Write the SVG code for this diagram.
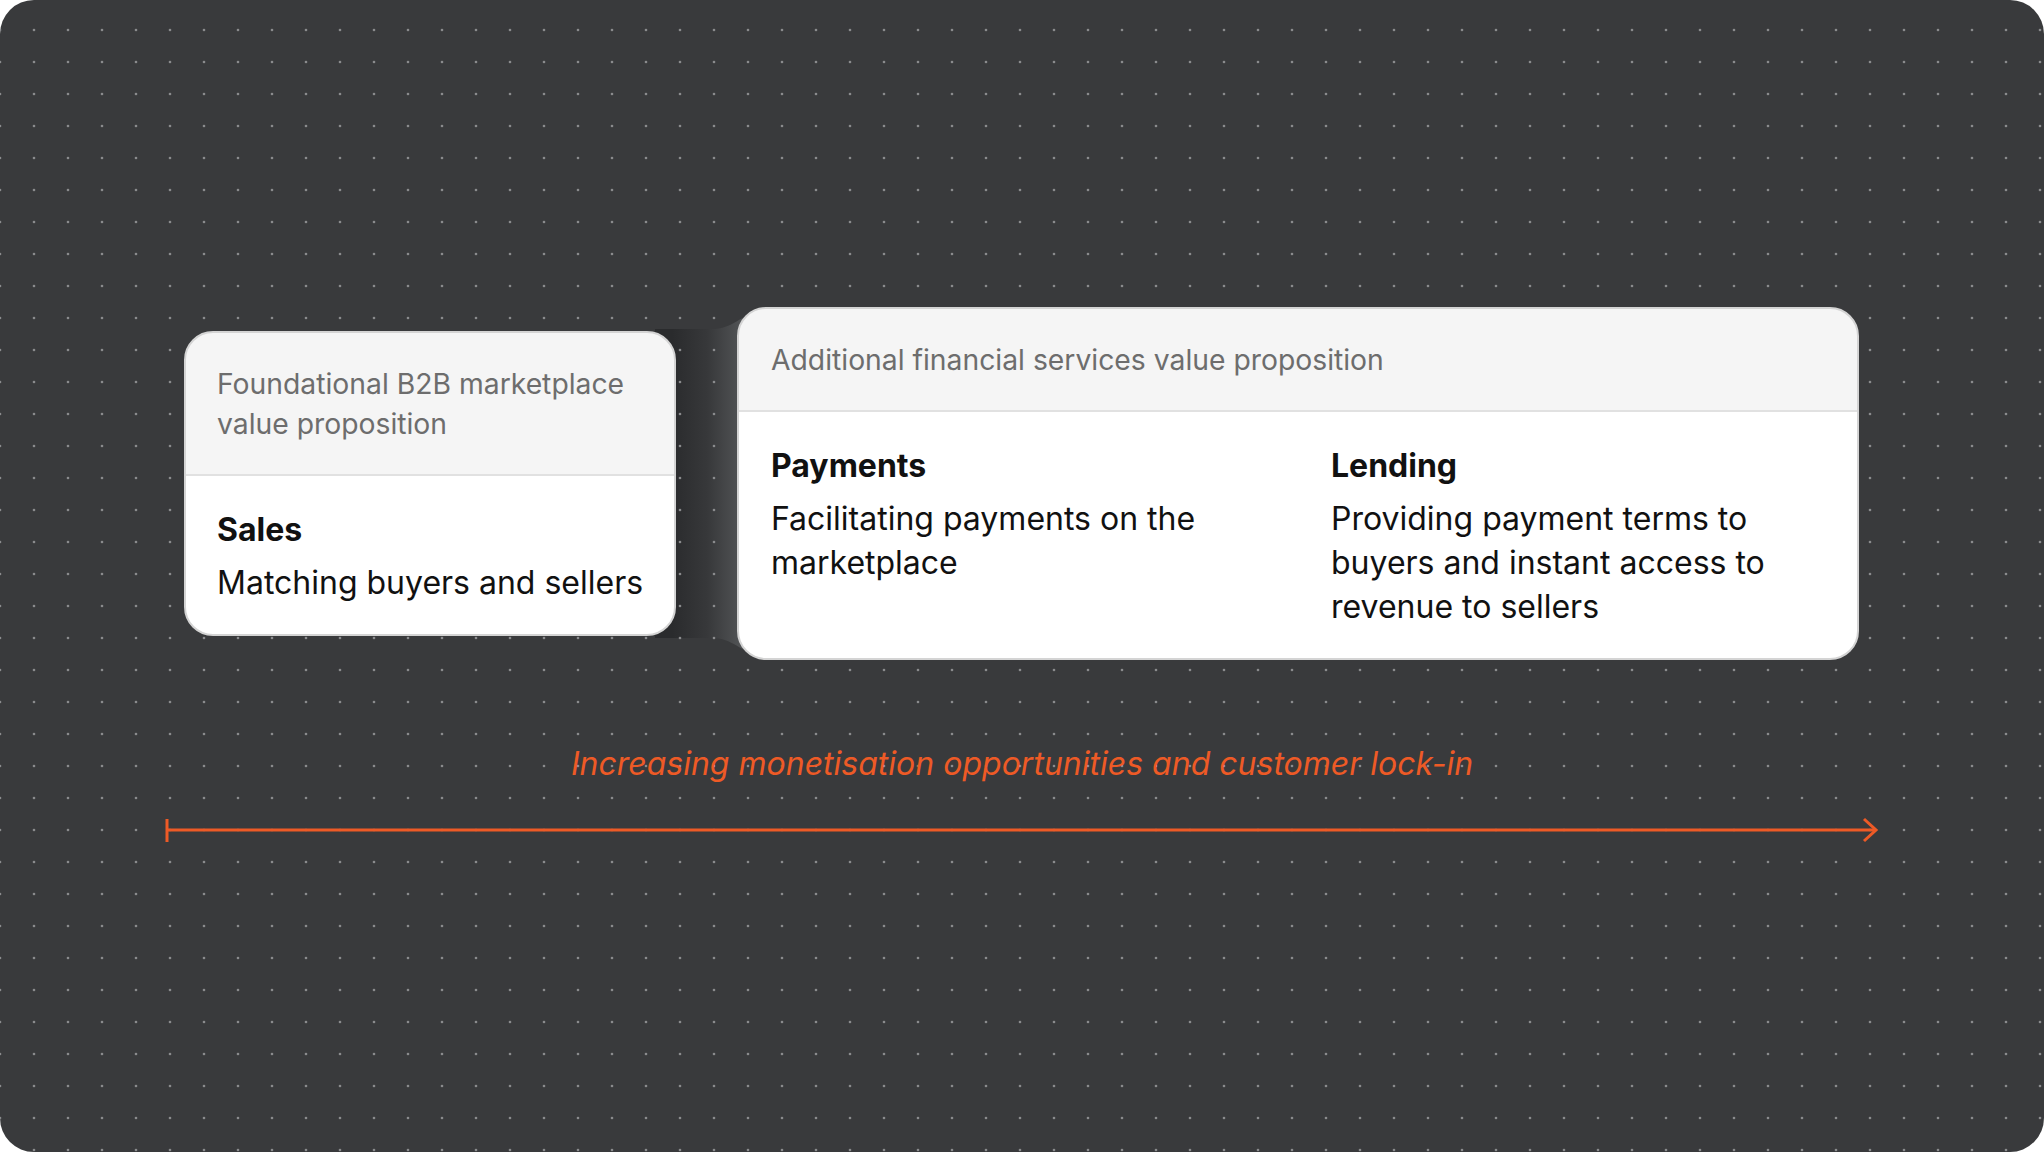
<svg xmlns="http://www.w3.org/2000/svg" width="2044" height="1152" viewBox="0 0 2044 1152">
<defs>
<style>
.hdr{font-family:Inter,"Noto Sans",sans-serif;font-size:28.3px;fill:#6d6d6d}
.ttl{font-family:Inter,"Noto Sans",sans-serif;font-size:32px;font-weight:700;fill:#111111}
.body{font-family:Inter,"Noto Sans",sans-serif;font-size:32px;fill:#111111}
.card{fill:#ffffff}
.edge{fill:none;stroke:#d4d4d4;stroke-width:2}
.head{fill:#f5f5f5}
.div{stroke:#e1e1e1;stroke-width:2}
.axis{stroke:#ee5a26;stroke-width:3;fill:none}
.lbl{font-family:Inter,"Noto Sans",sans-serif;font-size:32px;font-style:italic;fill:#ee5a26}
</style>
<pattern id="dots" x="17" y="14" width="34" height="32" patternUnits="userSpaceOnUse">
<circle cx="17" cy="16" r="1.3" fill="#8a8b8d"/>
</pattern>
<linearGradient id="bridge" gradientUnits="userSpaceOnUse" x1="672" y1="0" x2="742" y2="0">
<stop offset="0" stop-color="#2a2b2d"/>
<stop offset="0.5" stop-color="#37383a"/>
<stop offset="1" stop-color="#525456"/>
</linearGradient>
<clipPath id="c1"><rect x="185" y="332" width="490" height="303" rx="28"/></clipPath>
<clipPath id="c2"><rect x="738" y="308" width="1120" height="351" rx="28"/></clipPath>
</defs>
<rect x="0" y="0" width="2044" height="1152" fill="#ffffff"/>
<rect x="0" y="0" width="2044" height="1152" rx="34" fill="#393a3c"/>
<path d="M655 329 L712 329 C734 329 740 314 768 308 L768 659 C740 653 734 638 712 638 L655 638 Z" fill="url(#bridge)"/>
<rect x="0" y="0" width="2044" height="1152" rx="34" fill="url(#dots)"/>
<g id="node-foundational">
<rect class="card" x="185" y="332" width="490" height="303" rx="28"/>
<rect class="head" x="185" y="332" width="490" height="143" clip-path="url(#c1)"/>
<line class="div" x1="186" y1="475" x2="674" y2="475"/>
<rect class="edge" x="185" y="332" width="490" height="303" rx="28"/>
<text class="hdr" x="217" y="394">Foundational B2B marketplace</text>
<text class="hdr" x="217" y="434">value proposition</text>
<text class="ttl" x="217" y="541">Sales</text>
<text class="body" x="217" y="594">Matching buyers and sellers</text>
</g>
<g id="node-financial">
<rect class="card" x="738" y="308" width="1120" height="351" rx="28"/>
<rect class="head" x="738" y="308" width="1120" height="103" clip-path="url(#c2)"/>
<line class="div" x1="739" y1="411" x2="1857" y2="411"/>
<rect class="edge" x="738" y="308" width="1120" height="351" rx="28"/>
<text class="hdr" x="771" y="370">Additional financial services value proposition</text>
<text class="ttl" x="771" y="477">Payments</text>
<text class="body" x="771" y="530">Facilitating payments on the</text>
<text class="body" x="771" y="574">marketplace</text>
<text class="ttl" x="1331" y="477">Lending</text>
<text class="body" x="1331" y="530">Providing payment terms to</text>
<text class="body" x="1331" y="574">buyers and instant access to</text>
<text class="body" x="1331" y="618">revenue to sellers</text>
</g>
<g id="connectors">
<text class="lbl" x="1022" y="775" text-anchor="middle">Increasing monetisation opportunities and customer lock-in</text>
<line class="axis" x1="167" y1="830" x2="1875" y2="830"/>
<line class="axis" x1="167" y1="819" x2="167" y2="842"/>
<polyline class="axis" points="1864,819 1876,830 1864,841"/>
</g>
</svg>
